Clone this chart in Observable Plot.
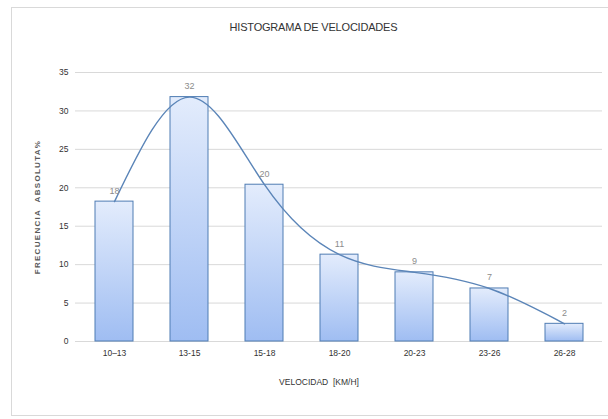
<!DOCTYPE html>
<html>
<head>
<meta charset="utf-8">
<script src="https://cdn.jsdelivr.net/npm/d3@7"></script>
<script src="https://cdn.jsdelivr.net/npm/@observablehq/plot@0.6"></script>
<style>
  html, body { margin: 0; padding: 0; background: #fff; }
  #wrap { position: relative; width: 608px; height: 419px; overflow: hidden; font-family: "Liberation Sans", sans-serif; }
  #frame { position: absolute; left: 11px; top: 7px; width: 620px; height: 409px; border: 1px solid #d9d9d9; box-sizing: border-box; }
  #title { position: absolute; left: 0; top: 21px; width: 627px; text-align: center; font-size: 11px; letter-spacing: -0.2px; color: #333; }
  #xlabel { position: absolute; left: 0; top: 377px; width: 638px; text-align: center; font-size: 8.5px; color: #333; white-space: pre; }
  #chart { position: absolute; left: 0; top: 0; }
</style>
</head>
<body>
<div id="wrap">
  <div id="frame"></div>
  <div id="chart"></div>
  <div id="title">HISTOGRAMA DE VELOCIDADES</div>
  <div id="xlabel">VELOCIDAD  [KM/H]</div>
</div>
<script>
const categories = ["10–13", "13-15", "15-18", "18-20", "20-23", "23-26", "26-28"];
const values = [18.2, 31.8, 20.4, 11.3, 9.0, 6.9, 2.3];
const valueLabels = ["18", "32", "20", "11", "9", "7", "2"];
const yTicks = [0, 5, 10, 15, 20, 25, 30, 35];
const yTitle = "FRECUENCIA  ABSOLUTA%";

const data = categories.map((c, i) => ({ cat: c, value: values[i], label: valueLabels[i] }));

const chart = Plot.plot({
  width: 608,
  height: 419,
  marginLeft: 75,
  marginRight: 6,
  marginTop: 72,
  marginBottom: 78,
  style: { fontFamily: "'Liberation Sans', sans-serif", background: "transparent" },
  x: { domain: categories, paddingInner: 0.5, paddingOuter: 0.25 },
  y: { domain: [0, 35] },
  marks: [
    Plot.ruleY(yTicks, { stroke: "#d9d9d9", strokeWidth: 1 }),
    Plot.axisY({ ticks: yTicks, tickSize: 0, tickPadding: 7, fontSize: 8.5, fill: "#333", label: null }),
    Plot.axisX({ tickSize: 0, tickPadding: 8, fontSize: 8.5, fill: "#333", label: null }),
    Plot.barY(data, { x: "cat", y: "value", fill: "url(#barGrad)", stroke: "#4f7cb3", strokeWidth: 1 }),
    Plot.line(data, { x: "cat", y: "value", curve: "natural", stroke: "#5b85b8", strokeWidth: 1.4 }),
    Plot.text(data, { x: "cat", y: "value", text: "label", dy: -11, fontSize: 9, fill: "#8c8c8c" }),
    Plot.text([yTitle], { frameAnchor: "left", textAnchor: "middle", dx: -38, rotate: -90, fontSize: 8,
      fontWeight: "bold", fill: "#595959" })
  ]
});

const svg = d3.select(chart);
const defs = svg.insert("defs", ":first-child");
const grad = defs.append("linearGradient").attr("id", "barGrad")
  .attr("x1", 0).attr("y1", 0).attr("x2", 0).attr("y2", 1);
grad.append("stop").attr("offset", "0%").attr("stop-color", "#e3ecfc");
grad.append("stop").attr("offset", "100%").attr("stop-color", "#9fbdf2");
svg.selectAll("text").filter(function () { return this.textContent === yTitle; })
  .style("letter-spacing", "1.3px").style("white-space", "pre");

document.getElementById("chart").appendChild(chart);
</script>
</body>
</html>
